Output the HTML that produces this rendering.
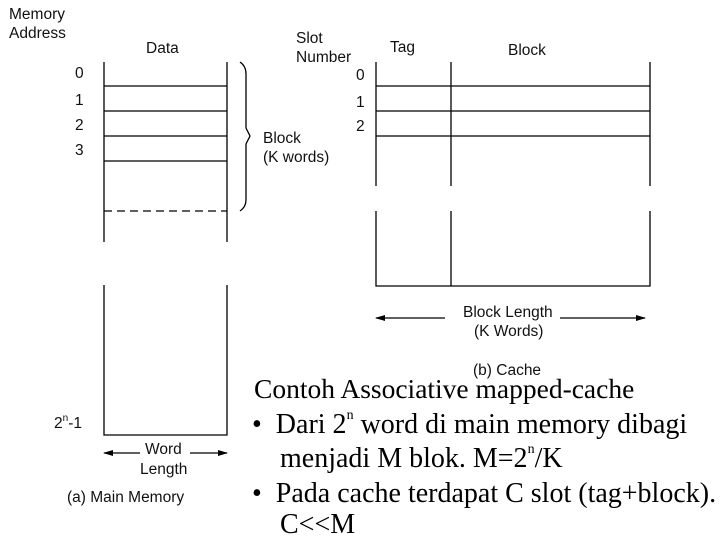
<!DOCTYPE html>
<html><head><style>
body{margin:0;width:720px;height:540px;background:#fff;overflow:hidden;position:relative;font-family:"Liberation Sans",sans-serif;}
.s{position:absolute;font-size:15.5px;color:#111;white-space:nowrap;line-height:1}
.r{position:absolute;font-family:"Liberation Serif",serif;font-size:28px;color:#000;white-space:nowrap;line-height:1}
sup{font-size:14px;vertical-align:top;position:relative;top:-2px}
</style></head><body>
<svg width="720" height="540" style="position:absolute;left:0;top:0" stroke="#000" stroke-width="1.3" fill="none">
<defs><marker id="a" markerWidth="10" markerHeight="8" refX="9" refY="4" orient="auto" markerUnits="userSpaceOnUse"><path d="M0,1 L10,4 L0,7z" fill="#000" stroke="none"/></marker></defs>
<line x1="104" y1="62" x2="104" y2="242"/><line x1="227" y1="62" x2="227" y2="242"/>
<line x1="104" y1="86" x2="227" y2="86"/><line x1="104" y1="111" x2="227" y2="111"/>
<line x1="104" y1="136" x2="227" y2="136"/><line x1="104" y1="161" x2="227" y2="161"/>
<line x1="104" y1="211" x2="227" y2="211" stroke-dasharray="8,5"/>
<path d="M104,285 L104,435 L227,435 L227,285"/>
<path d="M240,62 Q246,66 246,74 L246,128 L250,136 L246,144 L246,200 Q246,207 240,211"/>
<line x1="140" y1="453" x2="104" y2="453" marker-end="url(#a)"/>
<line x1="190" y1="453" x2="227" y2="453" marker-end="url(#a)"/>
<line x1="376" y1="62" x2="376" y2="186"/><line x1="451" y1="62" x2="451" y2="186"/><line x1="650" y1="62" x2="650" y2="186"/>
<line x1="376" y1="86" x2="650" y2="86"/><line x1="376" y1="111" x2="650" y2="111"/><line x1="376" y1="136" x2="650" y2="136"/>
<path d="M376,211 L376,286 L650,286 L650,211"/><line x1="451" y1="211" x2="451" y2="286"/>
<line x1="445" y1="318" x2="376" y2="318" marker-end="url(#a)"/>
<line x1="560" y1="318" x2="645" y2="318" marker-end="url(#a)"/>
</svg>
<div class="s" style="left:9px;top:7px">Memory</div>
<div class="s" style="left:9px;top:26px">Address</div>
<div class="s" style="left:146px;top:41px">Data</div>
<div class="s" style="left:75px;top:66px">0</div>
<div class="s" style="left:75px;top:93px">1</div>
<div class="s" style="left:75px;top:118px">2</div>
<div class="s" style="left:75px;top:143px">3</div>
<div class="s" style="left:263px;top:131px">Block</div>
<div class="s" style="left:263px;top:150px">(K words)</div>
<div class="s" style="left:54px;top:416px">2<sup style="font-size:10px">n</sup>-1</div>
<div class="s" style="left:145px;top:442px">Word</div>
<div class="s" style="left:140px;top:462px">Length</div>
<div class="s" style="left:67px;top:490px">(a) Main Memory</div>
<div class="s" style="left:296px;top:31px">Slot</div>
<div class="s" style="left:296px;top:50px">Number</div>
<div class="s" style="left:390px;top:40px">Tag</div>
<div class="s" style="left:508px;top:43px">Block</div>
<div class="s" style="left:356px;top:68px">0</div>
<div class="s" style="left:356px;top:95px">1</div>
<div class="s" style="left:356px;top:119px">2</div>
<div class="s" style="left:463px;top:305px">Block Length</div>
<div class="s" style="left:474px;top:324px">(K Words)</div>
<div class="s" style="left:473px;top:363px">(b) Cache</div>
<div class="r" style="left:254px;top:375px;font-size:27.5px">Contoh Associative mapped-cache</div>
<div class="r" style="left:252px;top:411px">•&nbsp; Dari 2<sup>n</sup> word di main memory dibagi</div>
<div class="r" style="left:280px;top:445px">menjadi M blok. M=2<sup>n</sup>/K</div>
<div class="r" style="left:252px;top:480px">•&nbsp; Pada cache terdapat C slot (tag+block).</div>
<div class="r" style="left:280px;top:511px">C&lt;&lt;M</div>
</body></html>
